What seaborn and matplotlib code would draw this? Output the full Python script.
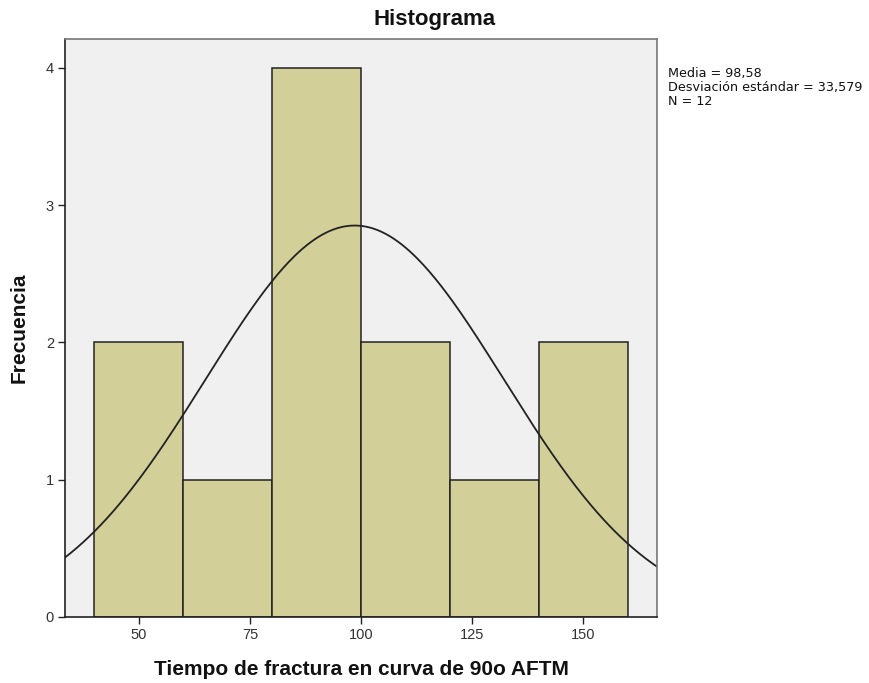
import numpy as np
import pandas as pd
import matplotlib
matplotlib.use("Agg")
import matplotlib.pyplot as plt
import seaborn as sns

# bins
bin_edges = [40, 60, 80, 100, 120, 140, 160]
counts = [2, 1, 4, 2, 1, 2]
media = 98.58
desv = 33.579
n = 12

sns.set_theme(style="white")
plt.rcParams['font.family'] = ['Liberation Sans', 'DejaVu Sans']
plt.rcParams['text.color'] = '#111111'
plt.rcParams['axes.labelcolor'] = '#111111'

centers = [(a + b) / 2 for a, b in zip(bin_edges[:-1], bin_edges[1:])]
df = pd.DataFrame({'x': centers, 'n': counts})

fig = plt.figure(figsize=(8.69, 6.83), dpi=100)
ax = fig.add_axes([65 / 869, 1 - 617 / 683, (657 - 65) / 869, (617 - 39) / 683])
ax.set_facecolor('#f0f0f0')

sns.histplot(data=df, x='x', weights='n', bins=bin_edges, ax=ax,
             color='#d3cf99', edgecolor='#222222', linewidth=1.1, alpha=1)

# normal curve scaled to counts
width = bin_edges[1] - bin_edges[0]
xs = np.linspace(33.4, 166.6, 300)
ys = n * width * np.exp(-0.5 * ((xs - media) / desv) ** 2) / (desv * np.sqrt(2 * np.pi))
sns.lineplot(x=xs, y=ys, ax=ax, color='#222222', linewidth=1.3)

ax.set_xlim(33.4, 166.6)
ax.set_ylim(0, 4.21)
ax.set_xticks([50, 75, 100, 125, 150])
ax.set_yticks([0, 1, 2, 3, 4])
ax.tick_params(axis='both', direction='out', length=5, width=1, color='#222222',
               labelsize=10.5, labelcolor='#333333', bottom=True, left=True, pad=3)

for s in ['left', 'bottom']:
    ax.spines[s].set_color('#222222')
    ax.spines[s].set_linewidth(1.2)
for s in ['top', 'right']:
    ax.spines[s].set_color('#777777')
    ax.spines[s].set_linewidth(1.2)

fig.suptitle('Histograma', x=0.5, y=1 - 9 / 683, va='top', fontsize=16, fontweight='bold')
ax.set_xlabel('Tiempo de fractura en curva de 90o AFTM', fontsize=15, fontweight='bold', labelpad=13)
ax.set_ylabel('Frecuencia', fontsize=15, fontweight='bold', labelpad=12)

fig.text(668 / 869, 1 - 67 / 683,
         'Media = 98,58\nDesviación estándar = 33,579\nN = 12',
         fontsize=9.2, family='DejaVu Sans', va='top', ha='left',
         linespacing=1.12, color='#111111')

fig.savefig('out.png', dpi=100)
